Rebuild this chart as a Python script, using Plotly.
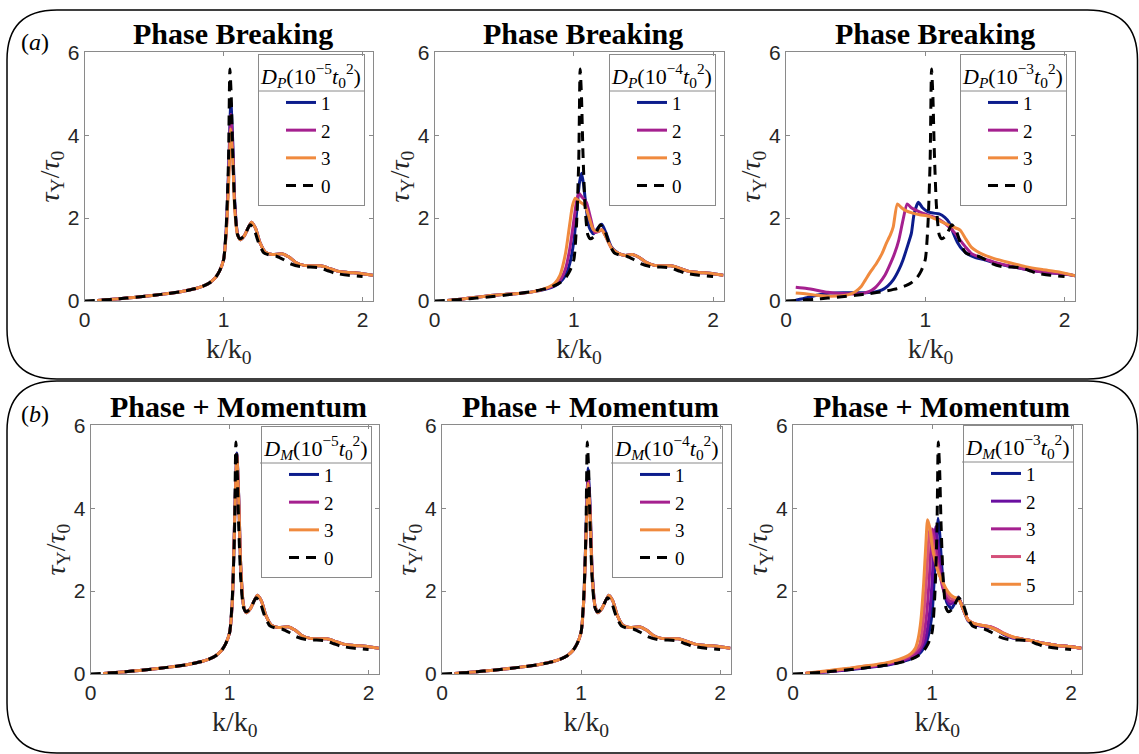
import plotly.graph_objects as go

W, H = 1139, 754

# ---------------- data ----------------
# reference curve D = 0 (black dashed), same in every panel
K_BASE = [0, 0.1, 0.2, 0.3, 0.4, 0.5, 0.6, 0.7, 0.8, 0.86, 0.9, 0.94, 0.97, 1.0, 1.02, 1.035, 1.045, 1.055, 1.065, 1.08,
          1.1, 1.12, 1.15, 1.19, 1.22, 1.25, 1.29, 1.34, 1.38, 1.43, 1.48, 1.55, 1.62, 1.69, 1.75, 1.8, 1.9, 2.0]
T_BASE = [0, 0.02, 0.04, 0.07, 0.1, 0.14, 0.18, 0.23, 0.3, 0.37, 0.44, 0.56, 0.72, 1.0, 1.9, 3.4, 5.6, 4.9, 3.6, 2.3,
          1.6, 1.5, 1.58, 1.84, 1.72, 1.42, 1.16, 1.1, 1.08, 1.0, 0.9, 0.83, 0.82, 0.8, 0.73, 0.67, 0.62, 0.59]

# sample grid for the weak-dephasing curves (panels a1, b1, b2)
K_SMALL = [0.09, 0.2, 0.3, 0.4, 0.5, 0.6, 0.7, 0.8, 0.86, 0.9, 0.94, 0.97, 1.0, 1.02, 1.038, 1.052, 1.066, 1.08, 1.1, 1.12,
           1.15, 1.2, 1.23, 1.26, 1.3, 1.35, 1.42, 1.47, 1.52, 1.58, 1.65, 1.7, 1.75, 1.82, 1.9, 2.0, 2.075]

# panel (a) left: D_P = 1,2,3 x 1e-5
T_A1_1 = [0.01, 0.04, 0.07, 0.1, 0.14, 0.18, 0.23, 0.3, 0.37, 0.44, 0.56, 0.72, 1.0, 1.8, 3.4, 4.8, 3.8, 2.4, 1.62, 1.48,
          1.58, 1.9, 1.75, 1.42, 1.18, 1.12, 1.14, 1.06, 0.93, 0.86, 0.85, 0.85, 0.8, 0.72, 0.69, 0.66, 0.62]
T_A1_2 = [0.01, 0.04, 0.07, 0.1, 0.14, 0.18, 0.23, 0.3, 0.37, 0.44, 0.56, 0.72, 1.0, 1.75, 3.25, 4.5, 3.6, 2.3, 1.62, 1.48,
          1.58, 1.9, 1.75, 1.42, 1.18, 1.12, 1.14, 1.06, 0.93, 0.86, 0.85, 0.85, 0.8, 0.72, 0.69, 0.66, 0.62]
T_A1_3 = [0.01, 0.04, 0.07, 0.1, 0.14, 0.18, 0.23, 0.3, 0.37, 0.44, 0.56, 0.72, 1.0, 1.7, 3.0, 4.15, 3.4, 2.2, 1.6, 1.48,
          1.58, 1.9, 1.75, 1.42, 1.18, 1.12, 1.14, 1.06, 0.93, 0.86, 0.85, 0.85, 0.8, 0.72, 0.69, 0.66, 0.62]

# panel (a) middle: D_P = 1,2,3 x 1e-4
K_A2_1 = [0.09, 0.2, 0.3, 0.4, 0.5, 0.6, 0.7, 0.8, 0.86, 0.9, 0.94, 0.97, 1.0, 1.02, 1.04, 1.055, 1.07, 1.09, 1.11, 1.14,
          1.17, 1.2, 1.23, 1.27, 1.32, 1.37, 1.42, 1.47, 1.52, 1.58, 1.65, 1.7, 1.75, 1.82, 1.9, 2.0, 2.075]
T_A2_1 = [0.01, 0.05, 0.09, 0.13, 0.16, 0.18, 0.22, 0.29, 0.36, 0.45, 0.62, 0.9, 1.45, 2.15, 2.85, 3.08, 2.8, 2.2, 1.78, 1.62,
          1.75, 1.85, 1.65, 1.3, 1.15, 1.1, 1.12, 1.05, 0.93, 0.86, 0.85, 0.85, 0.8, 0.72, 0.69, 0.66, 0.62]
K_A2_2 = [0.09, 0.2, 0.3, 0.4, 0.5, 0.6, 0.7, 0.8, 0.86, 0.9, 0.94, 0.97, 1.0, 1.02, 1.036, 1.06, 1.09, 1.12, 1.15, 1.18,
          1.2, 1.23, 1.27, 1.32, 1.37, 1.42, 1.47, 1.52, 1.58, 1.65, 1.7, 1.75, 1.82, 1.9, 2.0, 2.075]
T_A2_2 = [0.01, 0.05, 0.09, 0.13, 0.16, 0.18, 0.22, 0.3, 0.38, 0.5, 0.78, 1.25, 1.95, 2.42, 2.6, 2.5, 2.38, 2.0, 1.65, 1.68,
          1.72, 1.55, 1.28, 1.15, 1.1, 1.12, 1.05, 0.93, 0.86, 0.85, 0.85, 0.8, 0.72, 0.69, 0.66, 0.62]
K_A2_3 = [0.09, 0.2, 0.3, 0.4, 0.5, 0.6, 0.7, 0.8, 0.86, 0.9, 0.94, 0.97, 0.99, 1.01, 1.04, 1.08, 1.11, 1.14, 1.17, 1.2,
          1.23, 1.27, 1.32, 1.37, 1.42, 1.47, 1.52, 1.58, 1.65, 1.7, 1.75, 1.82, 1.9, 2.0, 2.075]
T_A2_3 = [0.01, 0.05, 0.09, 0.13, 0.16, 0.18, 0.22, 0.31, 0.42, 0.62, 1.15, 1.85, 2.3, 2.48, 2.4, 2.3, 2.0, 1.72, 1.68, 1.72,
          1.55, 1.28, 1.15, 1.1, 1.12, 1.05, 0.93, 0.86, 0.85, 0.85, 0.8, 0.72, 0.69, 0.66, 0.62]

# panel (a) right: D_P = 1,2,3 x 1e-3
K_A3_1 = [0.07, 0.15, 0.22, 0.32, 0.41, 0.5, 0.57, 0.64, 0.69, 0.73, 0.77, 0.81, 0.84, 0.87, 0.9, 0.92, 0.95, 0.98, 1.02, 1.06,
          1.1, 1.14, 1.17, 1.2, 1.23, 1.27, 1.31, 1.36, 1.42, 1.5, 1.6, 1.7, 1.8, 1.9, 2.0, 2.075]
T_A3_1 = [0.02, 0.08, 0.14, 0.19, 0.2, 0.2, 0.2, 0.22, 0.27, 0.36, 0.51, 0.75, 0.99, 1.3, 1.63, 2.1, 2.38, 2.25, 2.15, 2.12,
          2.1, 2.02, 1.9, 1.65, 1.42, 1.23, 1.12, 1.05, 1.0, 0.92, 0.84, 0.78, 0.72, 0.68, 0.65, 0.61]
K_A3_2 = [0.07, 0.15, 0.22, 0.3, 0.4, 0.5, 0.56, 0.6, 0.64, 0.67, 0.71, 0.74, 0.78, 0.81, 0.84, 0.87, 0.9, 0.94, 0.98, 1.03,
          1.08, 1.13, 1.17, 1.21, 1.25, 1.29, 1.33, 1.38, 1.44, 1.5, 1.6, 1.7, 1.8, 1.9, 2.0, 2.075]
T_A3_2 = [0.33, 0.3, 0.26, 0.21, 0.18, 0.17, 0.19, 0.23, 0.32, 0.43, 0.62, 0.83, 1.15, 1.47, 1.95, 2.34, 2.25, 2.18, 2.12, 2.06,
          2.0, 1.9, 1.79, 1.65, 1.47, 1.3, 1.15, 1.07, 1.0, 0.93, 0.85, 0.78, 0.72, 0.68, 0.65, 0.61]
K_A3_3 = [0.07, 0.15, 0.22, 0.29, 0.36, 0.43, 0.47, 0.5, 0.54, 0.57, 0.61, 0.65, 0.69, 0.72, 0.75, 0.77, 0.8, 0.83, 0.86, 0.91,
          0.96, 1.03, 1.08, 1.13, 1.19, 1.25, 1.29, 1.33, 1.37, 1.43, 1.49, 1.6, 1.72, 1.84, 1.96, 2.075]
T_A3_3 = [0.19, 0.17, 0.14, 0.12, 0.12, 0.14, 0.18, 0.23, 0.35, 0.51, 0.72, 0.91, 1.15, 1.39, 1.6, 1.79, 2.34, 2.25, 2.18, 2.12,
          2.08, 2.04, 1.97, 1.89, 1.8, 1.71, 1.5, 1.3, 1.2, 1.1, 1.03, 0.93, 0.83, 0.76, 0.7, 0.61]

# panel (b) left: D_M = 1,2,3 x 1e-5
T_B1_1 = [0.01, 0.04, 0.07, 0.1, 0.14, 0.18, 0.23, 0.3, 0.37, 0.44, 0.56, 0.72, 1.0, 1.8, 4.0, 5.33, 4.2, 2.6, 1.65, 1.48,
          1.58, 1.9, 1.75, 1.42, 1.18, 1.12, 1.14, 1.06, 0.93, 0.86, 0.85, 0.85, 0.8, 0.72, 0.69, 0.66, 0.62]
T_B1_2 = [0.01, 0.04, 0.07, 0.1, 0.14, 0.18, 0.23, 0.3, 0.37, 0.44, 0.56, 0.72, 1.0, 1.8, 4.0, 5.3, 4.2, 2.6, 1.65, 1.48,
          1.58, 1.9, 1.75, 1.42, 1.18, 1.12, 1.14, 1.06, 0.93, 0.86, 0.85, 0.85, 0.8, 0.72, 0.69, 0.66, 0.62]
T_B1_3 = [0.01, 0.04, 0.07, 0.1, 0.14, 0.18, 0.23, 0.3, 0.37, 0.44, 0.56, 0.72, 1.0, 1.8, 3.95, 5.27, 4.15, 2.6, 1.65, 1.48,
          1.58, 1.9, 1.75, 1.42, 1.18, 1.12, 1.14, 1.06, 0.93, 0.86, 0.85, 0.85, 0.8, 0.72, 0.69, 0.66, 0.62]

# panel (b) middle: D_M = 1,2,3 x 1e-4
T_B2_1 = [0.01, 0.04, 0.07, 0.1, 0.14, 0.18, 0.23, 0.3, 0.37, 0.44, 0.56, 0.72, 1.0, 1.8, 3.7, 4.97, 4.0, 2.5, 1.65, 1.48,
          1.58, 1.9, 1.75, 1.42, 1.18, 1.12, 1.14, 1.06, 0.93, 0.86, 0.85, 0.85, 0.8, 0.72, 0.69, 0.66, 0.62]
T_B2_2 = [0.01, 0.04, 0.07, 0.1, 0.14, 0.18, 0.23, 0.3, 0.37, 0.44, 0.56, 0.72, 1.0, 1.8, 3.6, 4.8, 3.9, 2.45, 1.65, 1.48,
          1.58, 1.9, 1.75, 1.42, 1.18, 1.12, 1.14, 1.06, 0.93, 0.86, 0.85, 0.85, 0.8, 0.72, 0.69, 0.66, 0.62]
T_B2_3 = [0.01, 0.04, 0.07, 0.1, 0.14, 0.18, 0.23, 0.3, 0.37, 0.44, 0.56, 0.72, 1.0, 1.8, 3.5, 4.6, 3.8, 2.4, 1.65, 1.48,
          1.58, 1.9, 1.75, 1.42, 1.18, 1.12, 1.14, 1.06, 0.93, 0.86, 0.85, 0.85, 0.8, 0.72, 0.69, 0.66, 0.62]

# panel (b) right: D_M = 1..5 x 1e-3
K_B3_1 = [0.09, 0.2, 0.3, 0.4, 0.5, 0.6, 0.7, 0.8, 0.86, 0.9, 0.94, 0.97, 1.0, 1.015, 1.03, 1.043, 1.055, 1.07, 1.09, 1.11,
          1.14, 1.17, 1.19, 1.22, 1.26, 1.3, 1.36, 1.42, 1.47, 1.52, 1.58, 1.65, 1.72, 1.8, 1.9, 2.0, 2.075]
T_B3_1 = [0.01, 0.04, 0.07, 0.1, 0.14, 0.18, 0.23, 0.31, 0.38, 0.46, 0.62, 0.88, 1.45, 2.25, 3.2, 3.76, 3.4, 2.6, 1.95, 1.7,
          1.58, 1.75, 1.86, 1.6, 1.28, 1.2, 1.15, 1.12, 1.05, 0.95, 0.87, 0.84, 0.8, 0.74, 0.69, 0.66, 0.62]
K_B3_2 = [0.09, 0.2, 0.3, 0.4, 0.5, 0.6, 0.7, 0.8, 0.86, 0.9, 0.95, 0.98, 1.0, 1.013, 1.025, 1.04, 1.06, 1.08, 1.1, 1.13,
          1.16, 1.19, 1.22, 1.26, 1.3, 1.36, 1.42, 1.47, 1.52, 1.58, 1.65, 1.72, 1.8, 1.9, 2.0, 2.075]
T_B3_2 = [0.01, 0.04, 0.07, 0.11, 0.15, 0.19, 0.24, 0.33, 0.41, 0.5, 0.8, 1.4, 2.2, 3.1, 3.55, 3.2, 2.6, 2.1, 1.85, 1.68,
          1.75, 1.84, 1.6, 1.3, 1.21, 1.16, 1.13, 1.06, 0.96, 0.88, 0.84, 0.8, 0.74, 0.69, 0.66, 0.62]
K_B3_3 = [0.09, 0.2, 0.3, 0.4, 0.5, 0.6, 0.7, 0.8, 0.86, 0.9, 0.93, 0.96, 0.98, 0.993, 1.005, 1.02, 1.04, 1.06, 1.08, 1.1,
          1.13, 1.16, 1.19, 1.22, 1.26, 1.3, 1.36, 1.42, 1.47, 1.52, 1.58, 1.65, 1.72, 1.8, 1.9, 2.0, 2.075]
T_B3_3 = [0.01, 0.05, 0.08, 0.12, 0.16, 0.2, 0.26, 0.35, 0.44, 0.56, 0.75, 1.4, 2.3, 3.1, 3.5, 3.2, 2.75, 2.35, 2.05, 1.9,
          1.75, 1.78, 1.83, 1.6, 1.3, 1.22, 1.17, 1.14, 1.07, 0.97, 0.89, 0.84, 0.8, 0.74, 0.69, 0.66, 0.62]
K_B3_4 = [0.09, 0.2, 0.3, 0.4, 0.5, 0.6, 0.7, 0.8, 0.86, 0.91, 0.94, 0.96, 0.973, 0.985, 1.0, 1.02, 1.05, 1.08, 1.1, 1.13,
          1.16, 1.19, 1.22, 1.26, 1.3, 1.36, 1.42, 1.47, 1.52, 1.58, 1.65, 1.72, 1.8, 1.9, 2.0, 2.075]
T_B3_4 = [0.02, 0.05, 0.09, 0.13, 0.18, 0.22, 0.28, 0.38, 0.5, 0.7, 1.4, 2.3, 3.1, 3.55, 3.3, 2.9, 2.45, 2.15, 2.0, 1.83,
          1.8, 1.82, 1.6, 1.3, 1.22, 1.17, 1.14, 1.07, 0.98, 0.89, 0.84, 0.8, 0.74, 0.69, 0.66, 0.62]
K_B3_5 = [0.09, 0.2, 0.3, 0.4, 0.5, 0.6, 0.7, 0.8, 0.85, 0.88, 0.9, 0.92, 0.94, 0.955, 0.968, 0.985, 1.0, 1.02, 1.05, 1.08,
          1.1, 1.13, 1.16, 1.19, 1.22, 1.26, 1.3, 1.35, 1.4, 1.45, 1.5, 1.58, 1.65, 1.72, 1.8, 1.9, 2.0, 2.075]
T_B3_5 = [0.02, 0.06, 0.1, 0.14, 0.19, 0.23, 0.29, 0.4, 0.5, 0.62, 0.85, 1.3, 2.2, 3.1, 3.72, 3.5, 3.1, 2.75, 2.4, 2.2,
          2.06, 1.92, 1.85, 1.82, 1.6, 1.3, 1.22, 1.18, 1.15, 1.08, 1.0, 0.9, 0.84, 0.8, 0.74, 0.69, 0.66, 0.62]

TITLES = ["Phase Breaking", "Phase Breaking", "Phase Breaking",
          "Phase + Momentum", "Phase + Momentum", "Phase + Momentum"]
LEG_TITLES = ["<i>D</i><sub><i>P</i></sub>(10<sup>−5</sup><i>t</i><sub>0</sub><sup>2</sup>)",
              "<i>D</i><sub><i>P</i></sub>(10<sup>−4</sup><i>t</i><sub>0</sub><sup>2</sup>)",
              "<i>D</i><sub><i>P</i></sub>(10<sup>−3</sup><i>t</i><sub>0</sub><sup>2</sup>)",
              "<i>D</i><sub><i>M</i></sub>(10<sup>−5</sup><i>t</i><sub>0</sub><sup>2</sup>)",
              "<i>D</i><sub><i>M</i></sub>(10<sup>−4</sup><i>t</i><sub>0</sub><sup>2</sup>)",
              "<i>D</i><sub><i>M</i></sub>(10<sup>−3</sup><i>t</i><sub>0</sub><sup>2</sup>)"]
X_TICKS = [0, 1, 2]
Y_TICKS = [0, 2, 4, 6]
BASE_LABEL = "0"
BASE_IN_LEGEND = [True, True, True, True, True, False]

BLUE, PURPLE, MAGENTA, PINK, ORANGE = "#0c1c8c", "#6a0fa0", "#a5208f", "#d4507a", "#f08a3e"

PANELS = [
    [("1", K_SMALL, T_A1_1, BLUE), ("2", K_SMALL, T_A1_2, MAGENTA), ("3", K_SMALL, T_A1_3, ORANGE)],
    [("1", K_A2_1, T_A2_1, BLUE), ("2", K_A2_2, T_A2_2, MAGENTA), ("3", K_A2_3, T_A2_3, ORANGE)],
    [("1", K_A3_1, T_A3_1, BLUE), ("2", K_A3_2, T_A3_2, MAGENTA), ("3", K_A3_3, T_A3_3, ORANGE)],
    [("1", K_SMALL, T_B1_1, BLUE), ("2", K_SMALL, T_B1_2, MAGENTA), ("3", K_SMALL, T_B1_3, ORANGE)],
    [("1", K_SMALL, T_B2_1, BLUE), ("2", K_SMALL, T_B2_2, MAGENTA), ("3", K_SMALL, T_B2_3, ORANGE)],
    [("1", K_B3_1, T_B3_1, BLUE), ("2", K_B3_2, T_B3_2, PURPLE), ("3", K_B3_3, T_B3_3, MAGENTA),
     ("4", K_B3_4, T_B3_4, PINK), ("5", K_B3_5, T_B3_5, ORANGE)],
]

# ---------------- layout geometry (pixels) ----------------
AX_X = [(84.7, 373.0), (434.7, 723.5), (786.0, 1075.0), (90.7, 379.0), (442.0, 730.5), (793.0, 1081.5)]
AX_Y = [(52.3, 301.0)] * 3 + [(425.3, 674.0)] * 3
LEG_RT = [(365, 61), (716, 61), (1067, 61), (372, 433), (723, 433), (1074, 432)]
LEG_W = [107, 107, 107, 112, 112, 112]
LEG_HEAD = 30


def px(x):
    return x / W


def py(y):
    return 1 - y / H


SERIF = "Liberation Serif"
SANS = "Liberation Sans"
AXCOL = "#262626"

fig = go.Figure()
layout = dict(width=W, height=H, margin=dict(l=0, r=0, t=0, b=0, pad=0, autoexpand=False), autosize=False,
              font=dict(family=SERIF, size=20, color="black"),
              paper_bgcolor="white", plot_bgcolor="white", showlegend=True)

annotations = []
shapes = []

for i, curves in enumerate(PANELS):
    n = i + 1
    xa = "x" if n == 1 else f"x{n}"
    ya = "y" if n == 1 else f"y{n}"
    leg = "legend" if n == 1 else f"legend{n}"
    for lab, kk, tt, col in curves:
        fig.add_trace(go.Scatter(x=kk, y=tt, mode="lines", name=lab, xaxis=xa, yaxis=ya, legend=leg,
                                 line=dict(color=col, width=3, shape="spline", smoothing=0.6)))
    fig.add_trace(go.Scatter(x=K_BASE, y=T_BASE, mode="lines", name=BASE_LABEL, xaxis=xa, yaxis=ya, legend=leg,
                             showlegend=BASE_IN_LEGEND[i],
                             line=dict(color="black", width=3, dash="10px,7px", shape="spline", smoothing=0.6)))

    x0, x1 = AX_X[i]
    y0, y1 = AX_Y[i]
    axcommon = dict(showline=True, linecolor="#8a8a8a", linewidth=1, mirror="ticks", ticks="inside",
                    ticklen=4, tickcolor="#8a8a8a", showgrid=False, zeroline=False, automargin=False,
                    tickfont=dict(family=SANS, size=21, color=AXCOL))
    layout["xaxis" if n == 1 else f"xaxis{n}"] = dict(
        axcommon, domain=[px(x0), px(x1)], anchor=ya, range=[0, 2.075], tickvals=X_TICKS,
        title=dict(text="k/k<sub>0</sub>", font=dict(family=SERIF, size=28, color=AXCOL), standoff=8))
    layout["yaxis" if n == 1 else f"yaxis{n}"] = dict(
        axcommon, domain=[py(y1), py(y0)], anchor=xa, range=[0, 6], tickvals=Y_TICKS,
        title=dict(text="<i>τ</i><sub>Y</sub>/<i>τ</i><sub>0</sub>", font=dict(family=SERIF, size=28, color=AXCOL),
                   standoff=0))

    r, t = LEG_RT[i]
    layout[leg] = dict(x=px(r), y=py(t - 7), xanchor="right", yanchor="top", bgcolor="rgba(0,0,0,0)",
                       bordercolor="#8a8a8a", borderwidth=1, indentation=22, tracegroupgap=0,
                       font=dict(family=SERIF, size=19, color="black"),
                       title=dict(text=LEG_TITLES[i], side="top center",
                                  font=dict(family=SERIF, size=22, color="black")))
    # divider below the legend title
    shapes.append(dict(type="line", xref="paper", yref="paper", x0=px(r - LEG_W[i]), x1=px(r),
                       y0=py(t + LEG_HEAD), y1=py(t + LEG_HEAD), line=dict(color="#8a8a8a", width=1), layer="above"))

    # panel title
    annotations.append(dict(text=f"<b>{TITLES[i]}</b>", xref="paper", yref="paper", x=px((x0 + x1) / 2 + 4),
                            y=py(y0 - 19), xanchor="center", yanchor="middle", showarrow=False,
                            font=dict(family=SERIF, size=30, color="black")))

annotations.append(dict(text="(<i>a</i>)", xref="paper", yref="paper", x=px(35), y=py(42), showarrow=False,
                        xanchor="center", yanchor="middle", font=dict(family=SERIF, size=24, color="black")))
annotations.append(dict(text="(<i>b</i>)", xref="paper", yref="paper", x=px(35), y=py(414), showarrow=False,
                        xanchor="center", yanchor="middle", font=dict(family=SERIF, size=24, color="black")))


def rounded(l, t, r, b, rad):
    def P(x, y):
        return f"{px(x):.5f},{py(y):.5f}"
    return (f"M{P(l + rad, t)} L{P(r - rad, t)} Q{P(r, t)} {P(r, t + rad)} L{P(r, b - rad)} "
            f"Q{P(r, b)} {P(r - rad, b)} L{P(l + rad, b)} Q{P(l, b)} {P(l, b - rad)} "
            f"L{P(l, t + rad)} Q{P(l, t)} {P(l + rad, t)} Z")


shapes.append(dict(type="path", xref="paper", yref="paper", path=rounded(7, 10, 1137.5, 379, 50),
                   line=dict(color="black", width=1.5), layer="below"))
shapes.append(dict(type="path", xref="paper", yref="paper", path=rounded(7, 381, 1137.5, 753, 50),
                   line=dict(color="black", width=1.5), layer="below"))

layout["annotations"] = annotations
layout["shapes"] = shapes
fig.update_layout(**layout)

PIN = ("document.body.style.margin='0px';document.body.style.overflow='hidden';"
       "var gd=document.getElementById('{plot_id}');gd.style.position='absolute';"
       "gd.style.left='0px';gd.style.top='0px';")
fig.write_html("out.html", post_script=PIN, config={"displayModeBar": False})
